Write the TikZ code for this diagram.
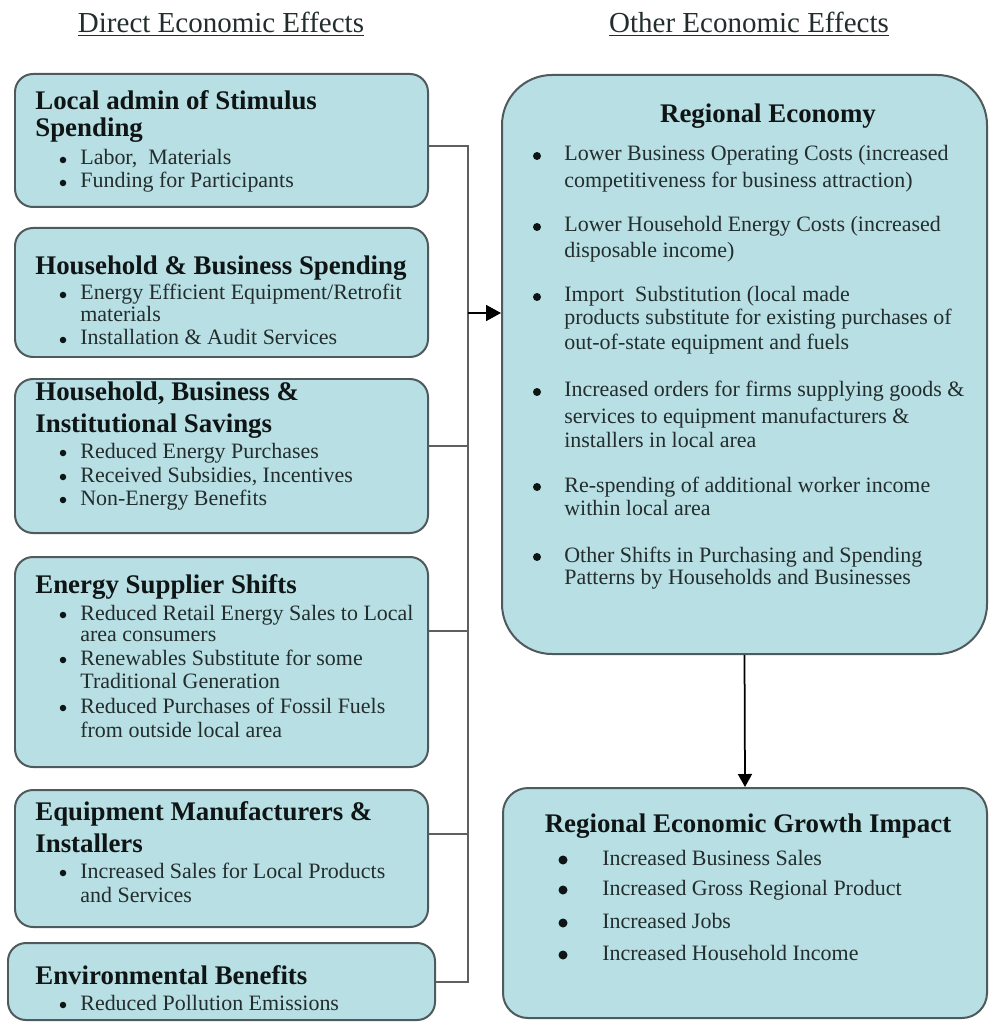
\documentclass[tikz,border=0pt]{standalone}
\usepackage{fontspec}
\setmainfont{Liberation Serif}
\usetikzlibrary{fit,arrows.meta}

% colours
\definecolor{r184g223b228}{RGB}{184,223,228}
\definecolor{r78g90b92}{RGB}{78,90,92}
\definecolor{r95g95b95}{RGB}{95,95,95}
\definecolor{r35g45b45}{RGB}{35,45,45}
\definecolor{r15g20b20}{RGB}{15,20,20}

\tikzset{
  box/.style={draw=r78g90b92, line width=0.04cm, fill=r184g223b228,
    rounded corners=0.36cm, inner sep=0pt},
  title/.style={anchor=base, inner sep=0pt, text=r35g45b45,
    font=\fontsize{16.5}{20}\selectfont},
  head/.style={anchor=base west, inner sep=0pt, text=r15g20b20,
    font=\fontsize{15.3}{18}\selectfont\bfseries},
  body/.style={anchor=base west, inner sep=0pt, text=r35g45b45,
    font=\fontsize{12.5}{15}\selectfont},
  bul/.style={fill=r15g20b20},
  conn/.style={draw=r95g95b95, line width=0.03cm},
  arr/.style={draw=black, line width=0.035cm,
    -{Triangle[length=0.3cm,width=0.32cm]}}
}

\begin{document}
\begin{tikzpicture}[x=0.02cm,y=-0.02cm]
\useasboundingbox (0,0) rectangle (989,1023);

% Marking titles
\node[title] (tl) at (221,33) {\underline{Direct Economic Effects}};
\node[title] (tr) at (749,33) {\underline{Other Economic Effects}};

% Drawing box 1
\node[box, fit={(15,74) (428,207)}] (b1) {};
\foreach \y/\txt [count=\i] in {110/{Local admin of Stimulus}, 137/{Spending}}
  \node[head] (b1h\i) at (35,\y) {\txt};
\foreach \y/\txt [count=\i] in {165/{Labor,\ \ Materials}, 188/{Funding for Participants}}
  \node[body] (b1l\i) at (80,\y) {\txt};

% Drawing box 2
\node[box, fit={(15,228) (428,357)}] (b2) {};
\node[head] (b2h1) at (35,275) {Household \& Business Spending};
\foreach \y/\txt [count=\i] in {300/{Energy Efficient Equipment/Retrofit}, 322/{materials},
    345/{Installation \& Audit Services}}
  \node[body] (b2l\i) at (80,\y) {\txt};

% Drawing box 3
\node[box, fit={(15,379) (428,533)}] (b3) {};
\foreach \y/\txt [count=\i] in {400/{Household, Business \&}, 432/{Institutional Savings}}
  \node[head] (b3h\i) at (35,\y) {\txt};
\foreach \y/\txt [count=\i] in {458/{Reduced Energy Purchases}, 482/{Received Subsidies, Incentives},
    505/{Non-Energy Benefits}}
  \node[body] (b3l\i) at (80,\y) {\txt};

% Drawing box 4
\node[box, fit={(15,557) (428,767)}] (b4) {};
\node[head] (b4h1) at (35,593) {Energy Supplier Shifts};
\foreach \y/\txt [count=\i] in {620/{Reduced Retail Energy Sales to Local}, 641/{area consumers},
    665/{Renewables Substitute for some}, 688/{Traditional Generation},
    713/{Reduced Purchases of Fossil Fuels}, 737/{from outside local area}}
  \node[body] (b4l\i) at (80,\y) {\txt};

% Drawing box 5
\node[box, fit={(15,790) (428,927)}] (b5) {};
\foreach \y/\txt [count=\i] in {820/{Equipment Manufacturers \&}, 852/{Installers}}
  \node[head] (b5h\i) at (35,\y) {\txt};
\foreach \y/\txt [count=\i] in {878/{Increased Sales for Local Products}, 902/{and Services}}
  \node[body] (b5l\i) at (80,\y) {\txt};

% Drawing box 6
\node[box, fit={(8,943) (435,1020)}] (b6) {};
\node[head] (b6h1) at (35,984) {Environmental Benefits};
\node[body] (b6l1) at (80,1010) {Reduced Pollution Emissions};

% Marking left bullets by circles
\foreach \y in {165,188,300,345,458,482,505,620,665,713,878,1010}
  \fill[bul] (63,\y-5) circle (0.065cm);

% Drawing box regional economy
\node[box, rounded corners=1cm, fit={(502,75) (987,654)}] (re) {};
\node[head, anchor=base] (reh) at (768,123) {Regional Economy};
\foreach \y/\txt [count=\i] in {161/{Lower Business Operating Costs (increased},
    188/{competitiveness for business attraction)},
    232/{Lower Household Energy Costs (increased}, 258/{disposable income)},
    302/{Import\ \ Substitution (local made}, 325/{products substitute for existing purchases of},
    350/{out-of-state equipment and fuels},
    397/{Increased orders for firms supplying goods \&}, 423/{services to equipment manufacturers \&},
    447/{installers in local area},
    492/{Re-spending of additional worker income}, 515/{within local area},
    562/{Other Shifts in Purchasing and Spending}, 584/{Patterns by Households and Businesses}}
  \node[body] (rel\i) at (564,\y) {\txt};
\foreach \y in {161,232,302,397,492,562}
  \fill[bul] (537,\y-5) circle (0.08cm);

% Drawing box growth impact
\node[box, rounded corners=0.5cm, fit={(503,788) (987,1018)}] (gr) {};
\node[head, anchor=base] (grh) at (748,832) {Regional Economic Growth Impact};
\foreach \y/\txt [count=\i] in {865/{Increased Business Sales}, 895/{Increased Gross Regional Product},
    928/{Increased Jobs}, 960/{Increased Household Income}}
  \node[body] (grl\i) at (602,\y) {\txt};
\foreach \y in {865,895,928,960}
  \fill[bul] (563,\y-5) circle (0.09cm);

% Drawing connector lines
\coordinate (j1) at (468,146);
\coordinate (j2) at (468,313);
\coordinate (j3) at (468,446);
\coordinate (j4) at (468,631);
\coordinate (j5) at (468,834);
\coordinate (j6) at (468,982);
\draw[conn] (j1 -| b1.east) -- (j1) -- (j6) -- (j6 -| b6.east);
\draw[conn] (j3 -| b3.east) -- (j3);
\draw[conn] (j4 -| b4.east) -- (j4);
\draw[conn] (j5 -| b5.east) -- (j5);

% Drawing arrows
\draw[arr] (j2) -- (j2 -| re.west);
\draw[arr, -{Triangle[length=0.26cm,width=0.28cm]}] (re.south) -- (gr.north);
\end{tikzpicture}
\end{document}
